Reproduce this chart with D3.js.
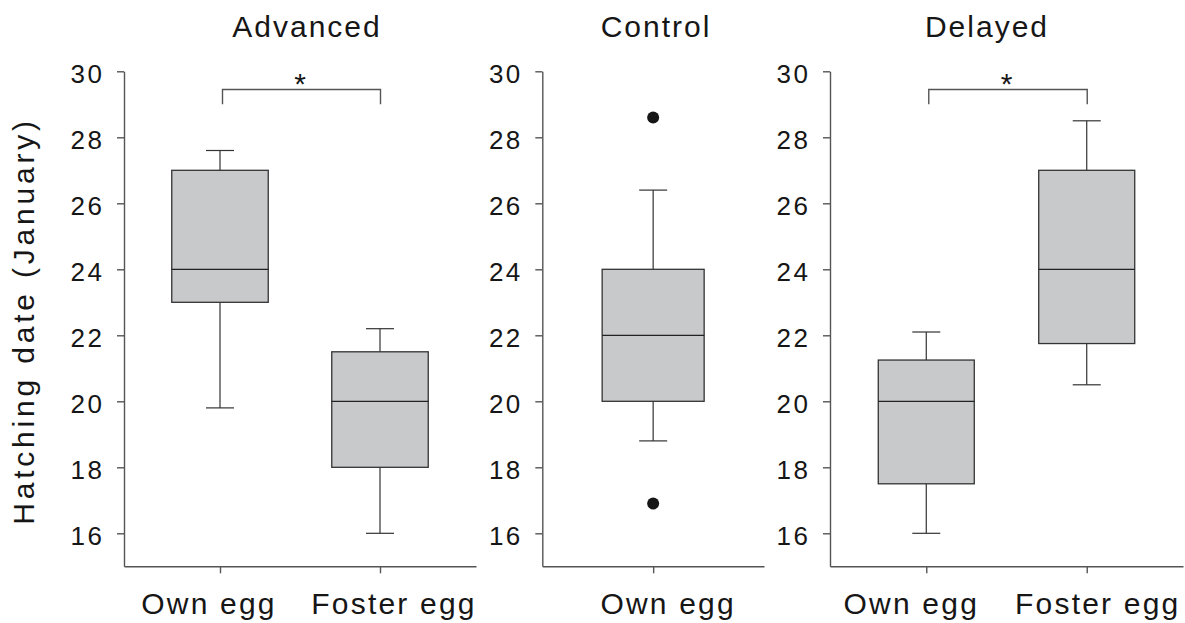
<!DOCTYPE html>
<html>
<head>
<meta charset="utf-8">
<script src="https://cdn.jsdelivr.net/npm/d3@7"></script>
<style>
  html, body { margin: 0; padding: 0; background: #fff; }
  svg { display: block; font-family: "Liberation Sans", Arial, sans-serif; }
</style>
</head>
<body>
<svg id="chart" width="1185" height="623"></svg>
<script>
// ---------------- DATA ----------------
const panelTitles = ["Advanced", "Control", "Delayed"];
const panelGroups = [["Own egg", "Foster egg"], ["Own egg"], ["Own egg", "Foster egg"]];
const whiskerLow  = [[19.8, 16.0], [18.8], [16.0, 20.5]];
const q1Values    = [[23.0, 18.0], [20.0], [17.5, 21.75]];
const medians     = [[24.0, 20.0], [22.0], [20.0, 24.0]];
const q3Values    = [[27.0, 21.5], [24.0], [21.25, 27.0]];
const whiskerHigh = [[27.6, 22.2], [26.4], [22.1, 28.5]];
const outliers    = [[[], []], [[28.6, 16.9]], [[], []]];
const yTicks = [16, 18, 20, 22, 24, 26, 28, 30];
const yDomain = [15, 30];
const significant = [true, false, true];
const bracketTop = 29.45;
const bracketFoot = 29.0;
const yAxisTitle = "Hatching date (January)";

// ---------------- LAYOUT ----------------
const panelRange = [[124, 476], [542.3, 764], [830, 1183]];
const boxWidth = [96.5, 102, 96];
const titleX = [307, 656, 987];
const labelShift = [[-11.5, 13.5], [14.5], [-15.5, 10.5]];
const yTop = 71.3, yBottom = 566.3;
const textColor = "#161616";

const svg = d3.select("#chart");
const y = d3.scaleLinear().domain(yDomain).range([yBottom, yTop]);

const axisColor = "#555";
const lineColor = "#333";

panelTitles.forEach((title, p) => {
  const g = svg.append("g");
  const x = d3.scalePoint().domain(panelGroups[p]).range(panelRange[p]).padding(0.6);
  if (panelGroups[p].length === 1) x.padding(0.5);

  // Y axis
  const ya = g.append("g")
    .attr("transform", `translate(${panelRange[p][0]},0)`)
    .call(d3.axisLeft(y).tickValues(yTicks).tickSize(7).tickSizeOuter(0).tickPadding(12.5));
  ya.select(".domain").attr("stroke", axisColor).attr("stroke-width", 1.4);
  ya.selectAll(".tick line").attr("stroke", axisColor).attr("stroke-width", 1.4);
  ya.selectAll(".tick text")
    .attr("font-size", 26).attr("fill", textColor).attr("letter-spacing", 2.5)
    .attr("dy", 11.5).attr("font-family", null);

  // X axis
  const xa = g.append("g")
    .attr("transform", `translate(0,${yBottom})`)
    .call(d3.axisBottom(x).tickSize(7).tickSizeOuter(0).tickPadding(20));
  xa.select(".domain").attr("stroke", axisColor).attr("stroke-width", 1.4);
  xa.selectAll(".tick line").attr("stroke", axisColor).attr("stroke-width", 1.4);
  xa.selectAll(".tick text")
    .attr("font-size", 30).attr("fill", textColor).attr("letter-spacing", 2.2)
    .attr("font-family", null)
    .attr("dy", null)
    .attr("y", 614.5 - yBottom)
    .attr("x", (d, i) => labelShift[p][i]);

  // Title
  g.append("text")
    .attr("x", titleX[p]).attr("y", 37)
    .attr("text-anchor", "middle")
    .attr("font-size", 30).attr("letter-spacing", 2).attr("fill", textColor)
    .text(title);

  // Boxes
  panelGroups[p].forEach((grp, i) => {
    const cx = x(grp);
    const w = boxWidth[p];
    const cap = 14;
    g.append("line").attr("x1", cx).attr("x2", cx)
      .attr("y1", y(q3Values[p][i])).attr("y2", y(whiskerHigh[p][i]))
      .attr("stroke", lineColor).attr("stroke-width", 1.2);
    g.append("line").attr("x1", cx).attr("x2", cx)
      .attr("y1", y(q1Values[p][i])).attr("y2", y(whiskerLow[p][i]))
      .attr("stroke", lineColor).attr("stroke-width", 1.2);
    g.append("line").attr("x1", cx - cap).attr("x2", cx + cap)
      .attr("y1", y(whiskerHigh[p][i])).attr("y2", y(whiskerHigh[p][i]))
      .attr("stroke", lineColor).attr("stroke-width", 1.2);
    g.append("line").attr("x1", cx - cap).attr("x2", cx + cap)
      .attr("y1", y(whiskerLow[p][i])).attr("y2", y(whiskerLow[p][i]))
      .attr("stroke", lineColor).attr("stroke-width", 1.2);
    g.append("rect")
      .attr("x", cx - w / 2).attr("width", w)
      .attr("y", y(q3Values[p][i]))
      .attr("height", y(q1Values[p][i]) - y(q3Values[p][i]))
      .attr("fill", "#c8c9cb").attr("stroke", lineColor).attr("stroke-width", 1.3);
    g.append("line").attr("x1", cx - w / 2).attr("x2", cx + w / 2)
      .attr("y1", y(medians[p][i])).attr("y2", y(medians[p][i]))
      .attr("stroke", "#222").attr("stroke-width", 1.2);
    g.selectAll(null).data(outliers[p][i]).enter().append("circle")
      .attr("cx", cx).attr("cy", d => y(d)).attr("r", 6).attr("fill", "#161616");
  });

  // Significance bracket
  if (significant[p]) {
    const g0 = panelGroups[p][0], g1 = panelGroups[p][1];
    const xl = x(g0) + 2.5, xr = x(g1) + 0.5;
    g.append("path")
      .attr("d", d3.line()([[xl, y(bracketFoot)], [xl, y(bracketTop)], [xr, y(bracketTop)], [xr, y(bracketFoot)]]))
      .attr("fill", "none").attr("stroke", axisColor).attr("stroke-width", 1.4);
    g.append("text")
      .attr("x", (xl + xr) / 2 - 1.5).attr("y", y(bracketTop) + 5)
      .attr("text-anchor", "middle")
      .attr("font-size", 30).attr("fill", textColor)
      .text("*");
  }
});

// Y axis title
svg.append("text")
  .attr("transform", "translate(34,321) rotate(-90)")
  .attr("text-anchor", "middle")
  .attr("font-size", 30).attr("letter-spacing", 3.8).attr("fill", textColor)
  .text(yAxisTitle);
</script>
</body>
</html>
